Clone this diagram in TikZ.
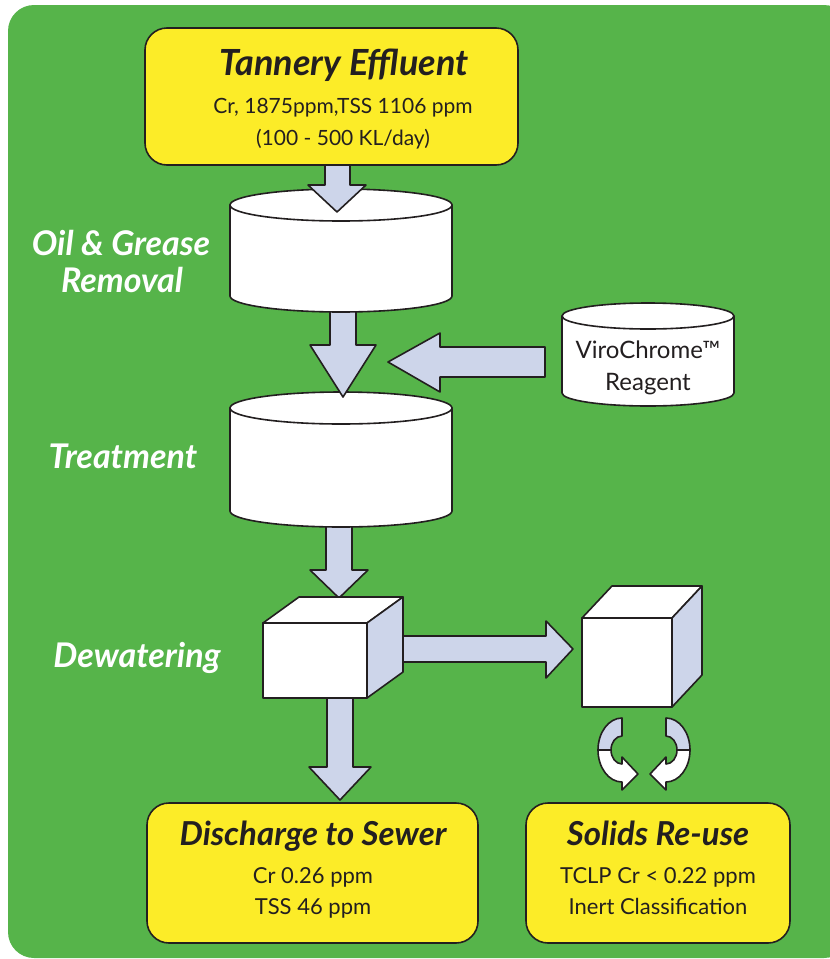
\documentclass[tikz,border=0pt]{standalone}
\usepackage{fontspec}
\setmainfont{Lato}
\definecolor{bggreen}{RGB}{86,180,74}
\definecolor{boxyellow}{RGB}{252,236,40}
\definecolor{lav}{RGB}{205,213,234}
\definecolor{ink}{RGB}{35,31,32}
\tikzset{
  outl/.style={draw=ink, line width=1.6pt, line join=round},
  blockarrow/.style={outl, fill=lav},
  ybox/.style={outl, fill=boxyellow, rounded corners=22pt, inner sep=0pt},
  titletext/.style={anchor=base, text=ink, font=\fontsize{33}{38}\selectfont\bfseries\itshape},
  subtext/.style={anchor=base, text=ink, font=\fontsize{22}{26}\selectfont},
  sidelabel/.style={anchor=base, text=white, font=\fontsize{34}{40}\selectfont\bfseries\itshape},
}
% drum: cx, top-ellipse centre y, rx, ry, side bottom y
\newcommand\drawdrum[5]{%
  \filldraw[outl, fill=white] (#1-#3,#2) -- (#1-#3,#5)
     arc[start angle=180, end angle=0, x radius=#3, y radius=#4] -- (#1+#3,#2) -- cycle;
  \draw[outl, fill=white] (#1,#2) ellipse[x radius=#3, y radius=#4];
}
% box3d: front x1,y1,x2,y2, depth dx,dy
\newcommand\drawboxthreed[6]{%
  \filldraw[outl, fill=white] (#1,#2) rectangle (#3,#4);
  \filldraw[outl, fill=white] (#1,#2) -- (#1+#5,#2-#6) -- (#3+#5,#2-#6) -- (#3,#2) -- cycle;
  \filldraw[outl, fill=lav] (#3,#2) -- (#3+#5,#2-#6) -- (#3+#5,#4-#6) -- (#3,#4) -- cycle;
}
\newcommand\cyclepiece{%
  \filldraw[outl, fill=white] (598,750) arc[start angle=180, end angle=90, x radius=24, y radius=32]
     -- (622,790) -- (638,774) -- (622,757) -- (622,764)
     arc[start angle=90, end angle=180, x radius=11, y radius=14] -- cycle;
  \filldraw[outl, fill=lav] (598,750) arc[start angle=180, end angle=270, x radius=24, y radius=32]
     -- (622,736) arc[start angle=270, end angle=180, x radius=11, y radius=14] -- cycle;
}
\begin{document}
\begin{tikzpicture}[x=1pt, y=-1pt]
\useasboundingbox (0,0) rectangle (830,959);
\fill[bggreen, rounded corners=26pt] (8,5) rectangle (850,958);

% named anchors
\coordinate (drumA) at (341,205);
\coordinate (drumB) at (341,408);
\coordinate (drumR) at (648,316);
\coordinate (cubeA) at (315,660);
\coordinate (cubeB) at (642,662);

% arrows lying under objects
\filldraw[blockarrow] (326,520) -- (352,520) -- (352,570) -- (368,570) -- (339,598) -- (310,570) -- (326,570) -- cycle;
\filldraw[blockarrow] (327,690) -- (353,690) -- (353,767) -- (371,767) -- (340,800) -- (309,767) -- (327,767) -- cycle;
\filldraw[blockarrow] (395,636) -- (546,636) -- (546,621) -- (573,649) -- (546,678) -- (546,662) -- (395,662) -- cycle;

% cubes
\drawboxthreed{263}{623}{367}{698}{36}{26}
\drawboxthreed{582}{618}{672}{707}{30}{32}

% drum 2, arrow 2, drum 1, arrow 1
\drawdrum{341}{408}{111}{16}{511}
\filldraw[blockarrow] (330,300) -- (356,300) -- (356,345) -- (376,345) -- (343,397) -- (310,345) -- (330,345) -- cycle;
\drawdrum{341}{205}{111}{16}{296}
\filldraw[blockarrow] (325,150) -- (350,150) -- (350,185) -- (366,185) -- (337,212) -- (308,185) -- (325,185) -- cycle;

% reagent drum and arrow
\drawdrum{648}{316}{86}{13}{393}
\filldraw[blockarrow] (545,347) -- (440,347) -- (440,333) -- (388,362) -- (440,392) -- (440,377) -- (545,377) -- cycle;

% cycle arrows
\cyclepiece
\begin{scope}[shift={(1288,0)}, xscale=-1]
\cyclepiece
\end{scope}

% yellow boxes
\node[ybox, minimum width=373pt, minimum height=137pt] (effluent) at (331.5,96.5) {};
\node[ybox, minimum width=331pt, minimum height=140pt] (sewer) at (312.5,873) {};
\node[ybox, minimum width=264pt, minimum height=140pt] (solids) at (658,873) {};

% texts
\node[titletext, font=\fontsize{36}{40}\selectfont\bfseries\itshape] (t1) at (344,75) {Tannery Effluent};
\node[subtext, font=\fontsize{21}{25}\selectfont] (t1a) at (343,113) {Cr, 1875ppm,TSS 1106 ppm};
\node[subtext, font=\fontsize{21}{25}\selectfont] (t1b) at (343,145) {(100 - 500 KL/day)};

\node[sidelabel] (l1) at (121,255) {Oil \& Grease};
\node[sidelabel] (l2) at (122,292) {Removal};
\node[sidelabel] (l3) at (123,468) {Treatment};
\node[sidelabel] (l4) at (137,667) {Dewatering};

\node[subtext, font=\fontsize{24}{28}\selectfont] (r1) at (648,358) {ViroChrome™};
\node[subtext, font=\fontsize{24}{28}\selectfont] (r2) at (648,390) {Reagent};

\node[titletext] (s1) at (313,845) {Discharge to Sewer};
\node[subtext] (s1a) at (313,883) {Cr 0.26 ppm};
\node[subtext] (s1b) at (313,914) {TSS 46 ppm};

\node[titletext] (u1) at (658,845) {Solids Re-use};
\node[subtext] (u1a) at (658,883) {TCLP Cr < 0.22 ppm};
\node[subtext] (u1b) at (658,914) {Inert Classification};
\end{tikzpicture}
\end{document}
